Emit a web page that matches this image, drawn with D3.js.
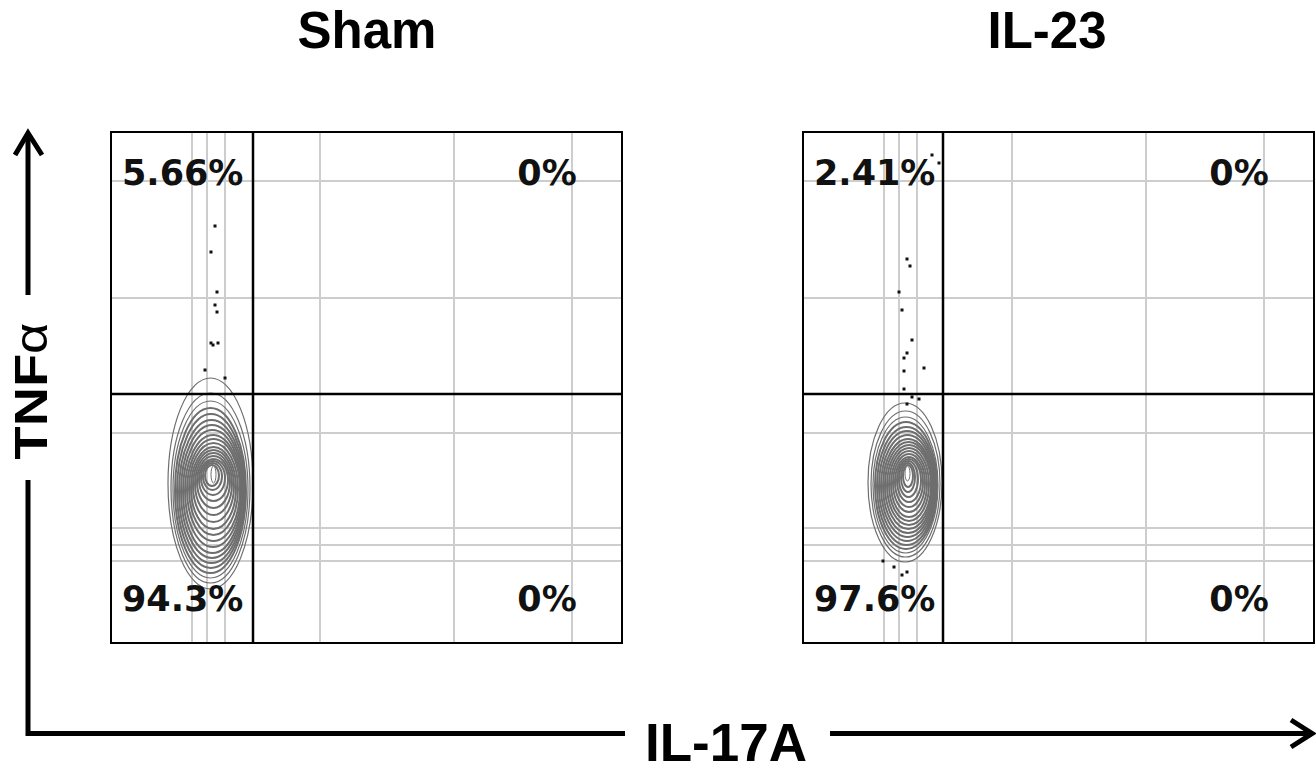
<!DOCTYPE html>
<html>
<head>
<meta charset="utf-8">
<script src="https://cdn.jsdelivr.net/npm/d3@7"></script>
<style>
  html, body { margin: 0; padding: 0; background: #fff; }
  svg { display: block; }
</style>
</head>
<body>
<svg id="chart" width="1316" height="771"></svg>
<script>
// channel values (0-1024)
var panelNames = ["Sham", "IL-23"];
var xGrid = [162, 192, 228, 418, 686, 922];
var yGrid = [166, 198, 232, 422, 692, 926];
var shamGate = [284, 500], il23Gate = [280, 500];
var shamPct = ["5.66%", "0%", "94.3%", "0%"];
var il23Pct = ["2.41%", "0%", "97.6%", "0%"];

// contour levels, outer to inner: [left, right, top, bottom]
var shamContours = [
  [114, 284, 532, 110], [120, 278, 502, 122], [124, 274, 486, 132], [128, 270, 472, 142],
  [132, 268, 460, 152], [136, 266, 448, 162], [140, 264, 438, 172], [144, 262, 428, 182],
  [148, 260, 418, 194], [152, 258, 410, 206], [156, 254, 402, 218], [160, 250, 394, 230],
  [164, 246, 388, 244], [168, 242, 382, 258], [172, 238, 376, 272], [176, 234, 370, 286],
  [180, 228, 366, 298], [184, 222, 362, 308], [188, 216, 358, 316]
];
var shamCore = [200, 210, 356, 322];
var il23Contours = [
  [130, 278, 482, 164], [136, 274, 466, 174], [140, 270, 454, 182], [144, 268, 444, 190],
  [148, 266, 434, 198], [152, 264, 426, 206], [156, 262, 418, 214], [160, 260, 410, 222],
  [164, 258, 404, 230], [168, 256, 398, 238], [172, 252, 392, 246], [176, 248, 386, 254],
  [180, 244, 380, 264], [184, 240, 374, 274], [188, 236, 370, 284], [192, 230, 366, 294],
  [196, 224, 362, 304], [200, 220, 358, 314]
];
var il23Core = [204, 214, 356, 326];

// single events outside the contours: [x, y]
var shamDots = [[208, 836], [200, 784], [212, 704], [208, 678], [212, 664], [200, 602],
  [204, 598], [214, 602], [188, 548], [228, 532]];
var il23Dots = [[258, 978], [272, 962], [208, 770], [214, 756], [192, 704], [198, 668],
  [218, 608], [208, 582], [202, 572], [242, 552], [202, 546], [202, 510], [218, 494],
  [232, 490], [208, 480], [160, 166], [182, 154], [198, 138], [208, 144]];

var panels = [
  {name: panelNames[0], left: 111, titleX: 367, gate: shamGate, pct: shamPct, contours: shamContours, core: shamCore, dots: shamDots},
  {name: panelNames[1], left: 803, titleX: 1047, gate: il23Gate, pct: il23Pct, contours: il23Contours, core: il23Core, dots: il23Dots}
];

var svg = d3.select("#chart"), top0 = 132, size = 511;
var x = d3.scaleLinear().domain([0, 1024]).range([0, 512]);
var y = d3.scaleLinear().domain([0, 1024]).range([512, 0]);

panels.forEach(function(p) {
  var g = svg.append("g").attr("transform", "translate(" + p.left + "," + top0 + ")");

  g.append("rect").attr("width", size).attr("height", size).attr("fill", "#fff");

  g.selectAll("line.vgrid").data(xGrid).enter().append("line").attr("class", "vgrid")
    .attr("x1", function(d) { return x(d); }).attr("x2", function(d) { return x(d); })
    .attr("y1", 0).attr("y2", size).attr("stroke", "#cdcdcd").attr("stroke-width", 2);
  g.selectAll("line.hgrid").data(yGrid).enter().append("line").attr("class", "hgrid")
    .attr("y1", function(d) { return y(d); }).attr("y2", function(d) { return y(d); })
    .attr("x1", 0).attr("x2", size).attr("stroke", "#cdcdcd").attr("stroke-width", 2);

  g.selectAll("ellipse.lvl").data(p.contours).enter().append("ellipse").attr("class", "lvl")
    .attr("cx", function(d) { return (x(d[0]) + x(d[1])) / 2; })
    .attr("cy", function(d) { return (y(d[2]) + y(d[3])) / 2; })
    .attr("rx", function(d) { return (x(d[1]) - x(d[0])) / 2; })
    .attr("ry", function(d) { return (y(d[3]) - y(d[2])) / 2; })
    .attr("fill", "none").attr("stroke", "#6e6e6e")
    .attr("stroke-width", function(d, i) { return i < 3 ? 1.2 : 2; });

  var c = p.core;
  g.append("ellipse")
    .attr("cx", (x(c[0]) + x(c[1])) / 2).attr("cy", (y(c[2]) + y(c[3])) / 2)
    .attr("rx", (x(c[1]) - x(c[0])) / 2).attr("ry", (y(c[3]) - y(c[2])) / 2)
    .attr("fill", "#fff").attr("stroke", "#6e6e6e").attr("stroke-width", 1);

  g.selectAll("rect.dot").data(p.dots).enter().append("rect").attr("class", "dot")
    .attr("x", function(d) { return x(d[0]) - 1.5; }).attr("y", function(d) { return y(d[1]) - 1.5; })
    .attr("width", 3).attr("height", 3).attr("fill", "#111");

  g.append("line").attr("x1", x(p.gate[0])).attr("x2", x(p.gate[0])).attr("y1", 0).attr("y2", size)
    .attr("stroke", "#000").attr("stroke-width", 2.5);
  g.append("line").attr("y1", y(p.gate[1])).attr("y2", y(p.gate[1])).attr("x1", 0).attr("x2", size)
    .attr("stroke", "#000").attr("stroke-width", 2.5);

  g.append("rect").attr("width", size).attr("height", size).attr("fill", "none")
    .attr("stroke", "#000").attr("stroke-width", 2);

  var pos = [[11, 53, "start"], [436, 53, "middle"], [11, 479, "start"], [436, 479, "middle"]];
  g.selectAll("text.pct").data(p.pct).enter().append("text").attr("class", "pct")
    .attr("x", function(d, i) { return pos[i][0]; }).attr("y", function(d, i) { return pos[i][1]; })
    .attr("text-anchor", function(d, i) { return pos[i][2]; })
    .style("font-family", "'DejaVu Sans', Verdana, sans-serif").style("font-weight", "bold")
    .style("font-size", "35px").attr("fill", "#111").text(function(d) { return d; });

  svg.append("text").attr("x", p.titleX).attr("y", 48).attr("text-anchor", "middle")
    .style("font-family", "'Liberation Sans', Arial, sans-serif").style("font-weight", "bold")
    .style("font-size", "51px").text(p.name);
});

// axis arrows
var ax = svg.append("g").attr("fill", "none").attr("stroke", "#000").attr("stroke-width", 5);
ax.append("line").attr("x1", 28).attr("x2", 28).attr("y1", 134).attr("y2", 295);
ax.append("polyline").attr("points", "15,155 28,133 42,155").attr("stroke-linejoin", "miter");
ax.append("polyline").attr("points", "28,480 28,733.5 625,733.5");
ax.append("line").attr("x1", 830).attr("x2", 1311).attr("y1", 733.5).attr("y2", 733.5);
ax.append("polyline").attr("points", "1291,720 1312,733.5 1291,747");

svg.append("text").attr("transform", "translate(47,391) rotate(-90)").attr("text-anchor", "middle")
  .attr("textLength", 137).attr("lengthAdjust", "spacingAndGlyphs")
  .style("font-family", "'Liberation Sans', Arial, sans-serif").style("font-weight", "bold")
  .style("font-size", "46px")
  .call(function(t) {
    t.append("tspan").text("TNF");
    t.append("tspan").style("font-weight", "normal").text("α");
  });

svg.append("text").attr("x", 726).attr("y", 761).attr("text-anchor", "middle")
  .attr("textLength", 162).attr("lengthAdjust", "spacingAndGlyphs")
  .style("font-family", "'Liberation Sans', Arial, sans-serif").style("font-weight", "bold")
  .style("font-size", "53px").text("IL-17A");
</script>
</body>
</html>
